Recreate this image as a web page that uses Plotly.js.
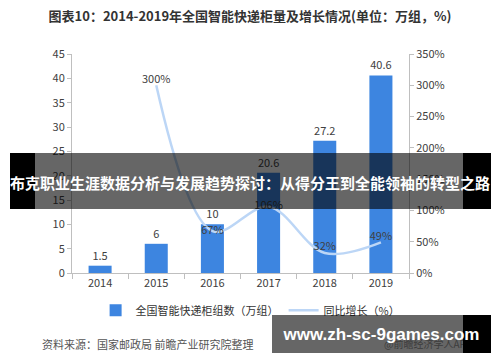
<!DOCTYPE html>
<html>
<head>
<meta charset="utf-8">
<script src="https://cdn.plot.ly/plotly-3.0.1.min.js"></script>
<style>
html,body{margin:0;padding:0;background:#fff;}
#wrap{position:relative;width:500px;height:362px;overflow:hidden;}
#chart{position:absolute;left:0;top:0;width:500px;height:362px;}
.band{position:absolute;background:rgba(0,0,0,0.6);}
.pill{position:absolute;background:#000;}
.btxt{position:absolute;color:#fff;font-weight:bold;white-space:nowrap;text-align:center;}
</style>
</head>
<body>
<div id="wrap">
<div id="chart"></div>
<div class="band" style="left:35px;top:153px;width:428px;height:56px;"></div>
<div class="pill" style="left:10px;top:153px;width:25px;height:56px;"></div>
<div class="pill" style="left:463px;top:153px;width:28px;height:56px;"></div>
<div class="btxt" id="bannerText" style="left:0;width:500px;top:172px;font-size:15px;line-height:22px;font-family:'Noto Sans CJK SC',sans-serif;"></div>
<div class="band" style="left:272px;top:315px;width:191px;height:38px;"></div>
<div class="pill" style="left:463px;top:315px;width:28px;height:38px;"></div>
<div class="btxt" id="urlText" style="left:272px;width:219px;top:323px;font-size:17px;line-height:24px;font-family:'Liberation Sans',Arial,sans-serif;"></div>
</div>
<script>
var years = ['2014','2015','2016','2017','2018','2019'];
var counts = [1.5, 6, 10, 20.6, 27.2, 40.6];
var growthYears = ['2015','2016','2017','2018','2019'];
var growth = [300, 67, 106, 32, 49];
var growthLabels = ['300%','67%','106%','32%','49%'];
var leftTicks = [0,5,10,15,20,25,30,35,40,45];
var rightTicks = [0,50,100,150,200,250,300,350];
var titleText = '图表10：2014-2019年全国智能快递柜量及增长情况(单位：万组，%)';
var barName = '全国智能快递柜组数（万组）';
var lineName = '同比增长（%）';
var sourceText = '资料来源：国家邮政局 前瞻产业研究院整理';
var appText = '@前瞻经济学人APP';
var bannerText = '布克职业生涯数据分析与发展趋势探讨：从得分王到全能领袖的转型之路';
var urlText = 'www.zh-sc-9games.com';

document.getElementById('bannerText').textContent = bannerText;
document.getElementById('urlText').textContent = urlText;

var F = "'Noto Sans CJK SC', 'Noto Sans', sans-serif";
var tickColor = '#404040';

var bar = {
  type: 'bar', x: years, y: counts, name: barName,
  marker: {color: '#3d85e0'}, width: 0.41,
  text: counts.map(String), textposition: 'outside', cliponaxis: false,
  textfont: {family: F, size: 11, color: tickColor},
  hoverinfo: 'none'
};
var line = {
  type: 'scatter', mode: 'lines+text', x: growthYears, y: growth, yaxis: 'y2', name: lineName,
  line: {color: '#bcd6f6', width: 2.5, shape: 'spline', smoothing: 1},
  text: growthLabels,
  textposition: ['top center','middle center','middle center','top center','top center'],
  textfont: {family: F, size: 11, color: tickColor},
  cliponaxis: false, hoverinfo: 'none'
};

var layout = {
  width: 500, height: 362,
  margin: {l: 72, r: 91, t: 54, b: 89},
  paper_bgcolor: '#fff', plot_bgcolor: '#fff',
  font: {family: F, size: 11, color: tickColor},
  showlegend: true,
  legend: {orientation: 'h', x: 0.53, xanchor: 'center', y: -0.17, yanchor: 'middle',
           font: {family: F, size: 11, color: '#333'}, itemwidth: 30, tracegroupgap: 0},
  title: {text: '<b>' + titleText + '</b>', x: 0.5, xanchor: 'center', xref: 'container', y: 0.955, yanchor: 'middle', yref: 'container',
          font: {family: F, size: 13, color: '#333'}},
  xaxis: {type: 'category', showgrid: false, showline: true, linecolor: '#bfbfbf', linewidth: 1,
          ticks: 'outside', ticklen: 5, tickcolor: '#bfbfbf', tickson: 'boundaries',
          tickfont: {family: F, size: 11, color: tickColor}, zeroline: false, fixedrange: true},
  yaxis: {range: [0, 45], tickvals: leftTicks, ticktext: leftTicks.map(String), showgrid: false, zeroline: false,
          showline: true, linecolor: '#bfbfbf', ticks: 'outside', ticklen: 4, tickcolor: '#bfbfbf',
          tickfont: {family: F, size: 11, color: tickColor}},
  yaxis2: {range: [0, 350], overlaying: 'y', side: 'right', tickvals: rightTicks,
          ticktext: rightTicks.map(function(v){return v + '%';}), showgrid: false, zeroline: false,
          showline: true, linecolor: '#bfbfbf', ticks: 'outside', ticklen: 4, tickcolor: '#bfbfbf',
          tickfont: {family: F, size: 11, color: tickColor}},
  annotations: [
    {text: sourceText, xref: 'paper', yref: 'paper', x: -0.095, y: -0.324, xanchor: 'left', yanchor: 'middle',
     showarrow: false, font: {family: F, size: 11, color: '#555'}},
    {text: appText, xref: 'paper', yref: 'paper', x: 0.92, y: -0.32, xanchor: 'left', yanchor: 'middle',
     showarrow: false, font: {family: F, size: 10, color: '#999'}}
  ]
};

Plotly.newPlot('chart', [bar, line], layout, {displayModeBar: false, staticPlot: true});
</script>
</body>
</html>
